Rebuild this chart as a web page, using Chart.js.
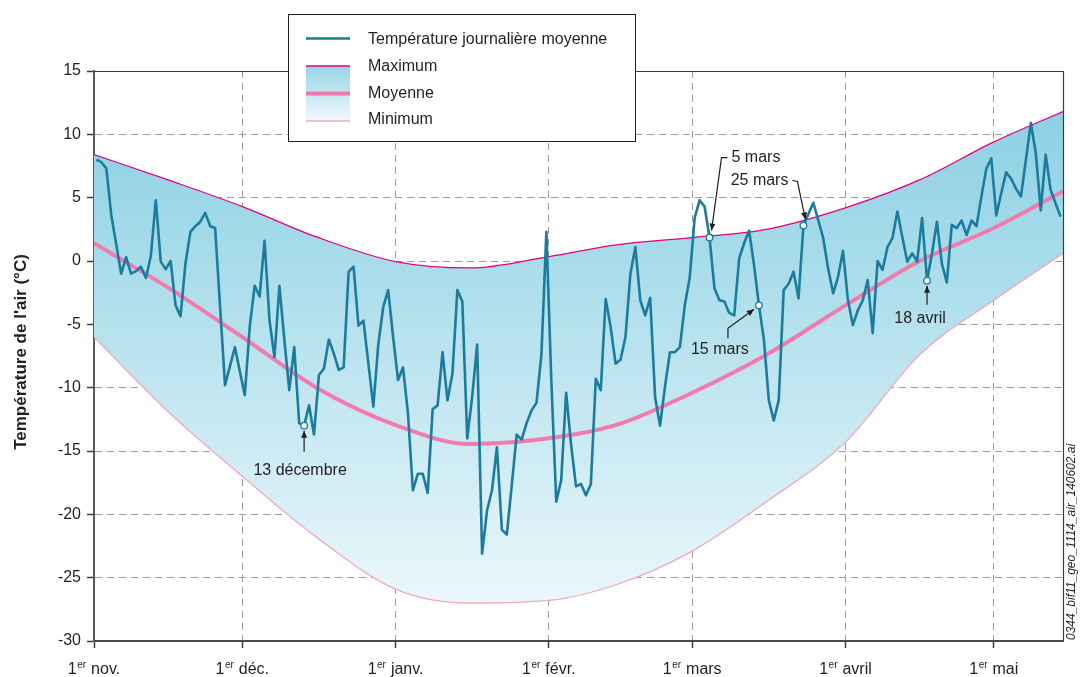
<!DOCTYPE html>
<html lang="fr">
<head>
    <meta charset="UTF-8">
    <title>Température de l'air</title>
    <script src="https://cdn.jsdelivr.net/npm/chart.js"></script>
    <style>
        html, body {
            margin: 0;
            padding: 0;
            background: #fff;
        }

        .chart-container {
            position: relative;
            width: 1080px;
            height: 677px;
        }
    </style>
</head>
<body>
<div class="chart-container">
    <canvas id="tempChart"></canvas>
</div>

<script>
    // moyenne journalière (°C), jour 0 = 1er novembre
    const dailyTemp = [
        8.0, 7.8, 7.3, 3.6, 1.3, -1.0, 0.3, -1.0, -0.8, -0.45,
        -1.35, 0.4, 4.8, -0.05, -0.65, 0.0, -3.5, -4.35, -0.2, 2.3,
        2.75, 3.1, 3.8, 2.75, 2.6, -3.6, -9.8, -8.3, -6.8, -8.7,
        -10.6, -5.2, -1.95, -2.8, 1.6, -4.7, -7.6, -1.95, -6.2, -10.2,
        -6.8, -12.8, -13.0, -11.4, -13.7, -9.0, -8.5, -6.2, -7.3, -8.6,
        -8.4, -0.85, -0.45, -5.1, -4.7, -8.1, -11.5, -6.6, -3.65, -2.3,
        -6.0, -9.4, -8.4, -12.0, -18.1, -16.8, -16.8, -18.3, -11.7, -11.4,
        -7.2, -11.0, -8.9, -2.3, -3.2, -14.0, -10.7, -6.6, -23.1, -19.7,
        -18.1, -14.7, -21.2, -21.6, -17.7, -13.7, -14.1, -12.8, -11.8, -11.2,
        -7.4, 2.3, -9.4, -19.0, -17.3, -10.4, -14.5, -17.8, -17.6, -18.5,
        -17.6, -9.3, -10.2, -3.0, -5.2, -8.1, -7.8, -6.0, -1.0, 1.1,
        -3.1, -4.3, -2.9, -10.8, -13.0, -9.9, -7.2, -7.2, -6.8, -3.5,
        -1.3, 3.4, 4.8, 4.3, 1.85, -2.15, -3.1, -3.2, -4.1, -4.3,
        0.2, 1.4, 2.4, -0.3, -3.5, -6.2, -11.0, -12.6, -11.0, -2.3,
        -1.8, -0.85, -2.95, 2.8, 3.7, 4.6, 3.2, 1.8, -0.6, -2.55,
        -1.25, 0.8, -3.1, -5.05, -3.9, -3.1, -1.5, -5.7, 0.0, -0.7,
        1.1, 1.8, 3.9, 1.9, -0.05, 0.6, -0.05, 3.4, -1.55, 0.6,
        3.1, -0.2, -1.7, 2.85, 2.6, 3.2, 2.05, 3.2, 2.75, 5.1,
        7.3, 8.1, 3.6, 5.35, 7.0, 6.5, 5.7, 5.1, 8.0, 10.9,
        8.5, 4.0, 8.4, 5.6, 4.55, 3.5
    ];

    // normales (°C) aux jours suivants
    const normalDays = [0, 15, 30, 45, 61, 76, 92, 106, 121, 136, 152, 167, 182, 196];
    const normalMax = [8.4, 6.4, 4.3, 1.9, -0.05, -0.55, 0.35, 1.3, 1.85, 2.5, 4.2, 6.4, 9.4, 11.8];
    const normalMean = [1.4, -2.1, -6.0, -10.0, -12.95, -14.45, -14.0, -12.9, -10.4, -7.4, -3.5, 0.0, 2.6, 5.5];
    const normalMin = [-6.0, -11.9, -17.0, -21.8, -25.9, -27.0, -26.8, -25.5, -22.9, -19.0, -14.3, -7.4, -3.1, 0.6];

    const monthDays = [0, 30, 61, 92, 121, 152, 182];
    const monthLabels = ['nov.', 'déc.', 'janv.', 'févr.', 'mars', 'avril', 'mai'];
    const yTicks = [-30, -25, -20, -15, -10, -5, 0, 5, 10, 15];

    const markedDays = [42, 124, 134, 143, 168];
    const markedLabels = ['13 décembre', '5 mars', '15 mars', '25 mars', '18 avril'];

    const textColor = '#231f20';
    const dailyColor = '#1b7c9e';
    const maxColor = '#e5007d';
    const meanColor = '#f27bad';
    const minColor = '#f3a6c8';
    const fontFamily = "'Liberation Sans', Arial, sans-serif";

    Chart.defaults.font.family = fontFamily;
    Chart.defaults.color = textColor;

    function bandGradient(context) {
        const area = context.chart.chartArea;
        if (!area) {
            return '#b8e2ee';
        }
        const g = context.chart.ctx.createLinearGradient(0, area.top, 0, area.bottom);
        g.addColorStop(0, '#84cde1');
        g.addColorStop(1, '#f2fafd');
        return g;
    }

    // placement des étiquettes, relatif au point marqué (px)
    const noteLayout = [
        {text: [-4, 45], align: 'center', path: [[0, 26], [0, 5]]},
        {text: [22, -80], align: 'left', path: [[18, -80], [12, -80], [2, -7]]},
        {text: [-68, 44], align: 'left', path: [[-31, 33], [-31, 23], [-5, 4]]},
        {text: [-15, -45], align: 'right', path: [[-11, -45], [-6, -44], [2, -6]]},
        {text: [-7, 38], align: 'center', path: [[0, 24], [0, 5]]}
    ];

    function arrowHead(ctx, from, to) {
        const ang = Math.atan2(to[1] - from[1], to[0] - from[0]);
        const len = 7, half = 3;
        ctx.beginPath();
        ctx.moveTo(to[0], to[1]);
        ctx.lineTo(to[0] - len * Math.cos(ang) + half * Math.sin(ang), to[1] - len * Math.sin(ang) - half * Math.cos(ang));
        ctx.lineTo(to[0] - len * Math.cos(ang) - half * Math.sin(ang), to[1] - len * Math.sin(ang) + half * Math.cos(ang));
        ctx.closePath();
        ctx.fill();
    }

    const decorPlugin = {
        id: 'decor',
        afterDraw(chart) {
            const {ctx, chartArea: a, scales: {x, y}} = chart;
            ctx.save();

            // cadre haut et droite
            ctx.strokeStyle = '#3c3c3c';
            ctx.lineWidth = 1.2;
            ctx.beginPath();
            ctx.moveTo(a.left, a.top + 0.5);
            ctx.lineTo(a.right + 0.5, a.top + 0.5);
            ctx.lineTo(a.right + 0.5, a.bottom);
            ctx.stroke();

            // étiquettes des mois
            ctx.fillStyle = textColor;
            ctx.textAlign = 'left';
            ctx.textBaseline = 'alphabetic';
            const big = '16px ' + fontFamily;
            const small = '10px ' + fontFamily;
            monthDays.forEach((d, i) => {
                const px = x.getPixelForValue(d);
                ctx.font = big;
                const w1 = ctx.measureText('1').width;
                const w3 = ctx.measureText(' ' + monthLabels[i]).width;
                ctx.font = small;
                const w2 = ctx.measureText('er').width + 1;
                const sx = px - (w1 + w2 + w3) / 2;
                const base = 674;
                ctx.font = big;
                ctx.fillText('1', sx, base);
                ctx.font = small;
                ctx.fillText('er', sx + w1 + 0.5, base - 6);
                ctx.font = big;
                ctx.fillText(' ' + monthLabels[i], sx + w1 + w2, base);
            });

            // titre de l'axe y
            ctx.save();
            ctx.translate(21, 352);
            ctx.rotate(-Math.PI / 2);
            ctx.font = 'bold 17px ' + fontFamily;
            ctx.textAlign = 'center';
            ctx.textBaseline = 'middle';
            ctx.fillText("Température de l'air (°C)", 0, 0);
            ctx.restore();

            // référence du fichier
            ctx.save();
            ctx.translate(1072, 640);
            ctx.rotate(-Math.PI / 2);
            ctx.font = 'italic 12px ' + fontFamily;
            ctx.textAlign = 'left';
            ctx.textBaseline = 'middle';
            ctx.fillText('0344_bif11_geo_1114_air_140602.ai', 0, 0);
            ctx.restore();

            // annotations
            ctx.font = '16px ' + fontFamily;
            ctx.textBaseline = 'middle';
            ctx.strokeStyle = textColor;
            ctx.lineWidth = 1.2;
            markedDays.forEach((d, i) => {
                const mx = x.getPixelForValue(d + 0.5);
                const my = y.getPixelForValue(dailyTemp[d]);
                const lay = noteLayout[i];
                ctx.textAlign = lay.align;
                ctx.fillText(markedLabels[i], mx + lay.text[0], my + lay.text[1]);
                const pts = lay.path.map(p => [mx + p[0], my + p[1]]);
                ctx.beginPath();
                ctx.moveTo(pts[0][0], pts[0][1]);
                for (let k = 1; k < pts.length; k++) {
                    ctx.lineTo(pts[k][0], pts[k][1]);
                }
                ctx.stroke();
                arrowHead(ctx, pts[pts.length - 2], pts[pts.length - 1]);
            });

            // légende
            const lx = 288.5, ly = 14.5, lw = 347, lh = 127;
            ctx.fillStyle = '#fff';
            ctx.fillRect(lx, ly, lw, lh);
            ctx.strokeStyle = '#231f20';
            ctx.lineWidth = 1;
            ctx.strokeRect(lx, ly, lw, lh);

            ctx.strokeStyle = dailyColor;
            ctx.lineWidth = 2.5;
            ctx.beginPath();
            ctx.moveTo(306, 38.5);
            ctx.lineTo(350, 38.5);
            ctx.stroke();

            const g = ctx.createLinearGradient(0, 66, 0, 121);
            g.addColorStop(0, '#98d5e5');
            g.addColorStop(1, '#f0f9fc');
            ctx.fillStyle = g;
            ctx.fillRect(306, 66, 44, 55);

            [[66, maxColor, 1.3], [93.5, meanColor, 4], [121, minColor, 1.5]].forEach(s => {
                ctx.strokeStyle = s[1];
                ctx.lineWidth = s[2];
                ctx.beginPath();
                ctx.moveTo(306, s[0]);
                ctx.lineTo(350, s[0]);
                ctx.stroke();
            });

            ctx.fillStyle = textColor;
            ctx.font = '16px ' + fontFamily;
            ctx.textAlign = 'left';
            ctx.textBaseline = 'middle';
            ctx.fillText('Température journalière moyenne', 368, 40);
            ctx.fillText('Maximum', 368, 67);
            ctx.fillText('Moyenne', 368, 94);
            ctx.fillText('Minimum', 368, 120);

            ctx.restore();
        }
    };

    const toPoints = (days, values) => days.map((d, i) => ({x: d, y: values[i]}));

    new Chart(document.getElementById('tempChart'), {
        type: 'line',
        data: {
            datasets: [
                {
                    type: 'scatter',
                    data: markedDays.map(d => ({x: d + 0.5, y: dailyTemp[d]})),
                    pointRadius: 3.3,
                    pointBackgroundColor: '#fff',
                    pointBorderColor: dailyColor,
                    pointBorderWidth: 1.3
                },
                {
                    data: dailyTemp.map((v, i) => ({x: i + 0.5, y: v})),
                    borderColor: dailyColor,
                    borderWidth: 2.6,
                    pointRadius: 0,
                    tension: 0,
                    borderJoinStyle: 'round'
                },
                {
                    data: toPoints(normalDays, normalMax),
                    borderColor: maxColor,
                    borderWidth: 1.3,
                    pointRadius: 0,
                    cubicInterpolationMode: 'monotone',
                    fill: 4,
                    backgroundColor: bandGradient
                },
                {
                    data: toPoints(normalDays, normalMean),
                    borderColor: meanColor,
                    borderWidth: 4,
                    pointRadius: 0,
                    cubicInterpolationMode: 'monotone'
                },
                {
                    data: toPoints(normalDays, normalMin),
                    borderColor: minColor,
                    borderWidth: 1.3,
                    pointRadius: 0,
                    cubicInterpolationMode: 'monotone'
                }
            ]
        },
        options: {
            responsive: true,
            maintainAspectRatio: false,
            animation: false,
            devicePixelRatio: 1,
            layout: {
                padding: {top: 71, right: 17, left: 0, bottom: 0}
            },
            plugins: {
                legend: {display: false},
                tooltip: {enabled: false},
                filler: {propagate: false, drawTime: 'beforeDatasetsDraw'}
            },
            scales: {
                x: {
                    type: 'linear',
                    min: 0,
                    max: 196,
                    afterBuildTicks: s => {
                        s.ticks = monthDays.map(v => ({value: v}));
                    },
                    afterFit: s => {
                        s.height = 36;
                    },
                    ticks: {display: false},
                    grid: {
                        color: '#9b9b9b',
                        lineWidth: 1,
                        tickLength: 7,
                        tickColor: '#3c3c3c',
                        tickWidth: 1.5
                    },
                    border: {color: '#4a4a4a', width: 2, dash: [7, 5]}
                },
                y: {
                    min: -30,
                    max: 15,
                    afterBuildTicks: s => {
                        s.ticks = yTicks.map(v => ({value: v}));
                    },
                    afterFit: s => {
                        s.width = 94;
                    },
                    ticks: {
                        font: {size: 16},
                        color: textColor,
                        padding: 6
                    },
                    grid: {
                        color: '#9b9b9b',
                        lineWidth: 1,
                        tickLength: 7,
                        tickColor: '#3c3c3c',
                        tickWidth: 1.5
                    },
                    border: {color: '#5a5a5a', width: 2, dash: [7, 5]}
                }
            }
        },
        plugins: [decorPlugin]
    });
</script>
</body>
</html>
